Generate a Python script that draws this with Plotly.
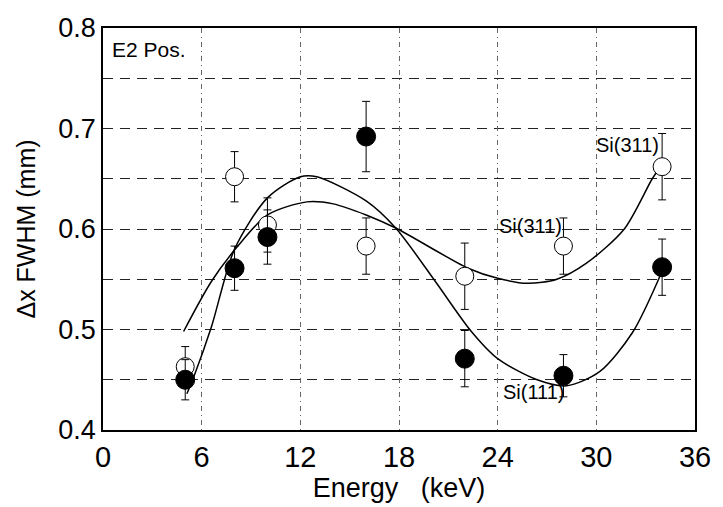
import plotly.graph_objects as go

# Measured data (Energy in keV, FWHM in mm)
energy = [5, 8, 10, 16, 22, 28, 34]
si311 = [0.463, 0.652, 0.604, 0.583, 0.553, 0.583, 0.662]
si311_err = [0.02, 0.025, 0.027, 0.028, 0.033, 0.028, 0.033]
si111 = [0.450, 0.561, 0.592, 0.692, 0.471, 0.454, 0.562]
si111_err = [0.02, 0.022, 0.027, 0.035, 0.028, 0.021, 0.028]

# Fit curves
fit311_x = [4.9, 6.6, 8.2, 10, 12.4, 14, 16, 17.8, 22.2, 24, 25.8, 27.6, 29.4, 31.7, 33.4, 33.9]
fit311_y = [0.498, 0.548, 0.583, 0.614, 0.627, 0.625, 0.614, 0.601, 0.561, 0.551, 0.546, 0.550, 0.566, 0.600, 0.650, 0.662]
fit111_x = [5.1, 5.5, 6.6, 8, 10, 12, 13, 16, 17.8, 20.2, 22.4, 24, 26.4, 28.2, 30.2, 32.2, 34]
fit111_y = [0.436, 0.452, 0.503, 0.580, 0.631, 0.652, 0.652, 0.628, 0.601, 0.548, 0.498, 0.471, 0.450, 0.444, 0.458, 0.497, 0.558]

x_ticks = [0, 6, 12, 18, 24, 30, 36]
y_ticks = [0.4, 0.5, 0.6, 0.7, 0.8]

fig = go.Figure()

for fx, fy in ((fit311_x, fit311_y), (fit111_x, fit111_y)):
    fig.add_trace(go.Scatter(
        x=fx, y=fy, mode="lines",
        line=dict(color="black", width=1.5, shape="spline", smoothing=0.8),
        showlegend=False, hoverinfo="skip"))

fig.add_trace(go.Scatter(
    x=energy, y=si311, mode="markers", name="Si(311)",
    marker=dict(symbol="circle", size=18, color="white",
                line=dict(color="black", width=1)),
    error_y=dict(type="data", array=si311_err, visible=True,
                 color="black", thickness=1, width=4),
    showlegend=False))
fig.add_trace(go.Scatter(
    x=energy, y=si111, mode="markers", name="Si(111)",
    marker=dict(symbol="circle", size=19, color="black",
                line=dict(color="black", width=1)),
    error_y=dict(type="data", array=si111_err, visible=True,
                 color="black", thickness=1, width=4),
    showlegend=False))

ann_font = dict(family="Arial, Liberation Sans, sans-serif", size=20, color="black")
fig.add_annotation(x=31.9, y=0.684, text="Si(311)", showarrow=False, font=ann_font)
fig.add_annotation(x=26.0, y=0.603, text="Si(311)", showarrow=False, font=ann_font)
fig.add_annotation(x=26.2, y=0.4375, text="Si(111)", showarrow=False, font=ann_font)
fig.add_annotation(x=0.4, y=0.779, text="E2 Pos.", showarrow=False, xanchor="left",
                   font=dict(family="Arial, Liberation Sans, sans-serif", size=21, color="black"))

fig.update_layout(
    width=723, height=507,
    margin=dict(l=103, r=19, t=28, b=63),
    paper_bgcolor="white", plot_bgcolor="white",
    font=dict(family="Arial, Liberation Sans, sans-serif", color="black"),
)
fig.update_xaxes(
    range=[0, 36], tickvals=x_ticks, ticktext=[str(v) for v in x_ticks],
    showline=True, mirror=True, linecolor="black", linewidth=1.5,
    showgrid=True, gridcolor="#666666", gridwidth=1, griddash="5px,4px,1px,4px",
    ticks="", zeroline=False,
    tickfont=dict(size=29),
    title=dict(text="Energy\u00a0\u00a0\u00a0(keV)", standoff=4, font=dict(size=27)),
)
fig.update_yaxes(
    range=[0.4, 0.8], tickvals=y_ticks, ticktext=["0.4", "0.5", "0.6", "0.7", "0.8"],
    showline=True, mirror=True, linecolor="black", linewidth=1.5,
    showgrid=False, ticks="", zeroline=False,
    tickfont=dict(size=27),
    title=dict(text="\u0394x FWHM (mm)", standoff=16, font=dict(size=25)),
)
# horizontal dashed grid at every 0.05 (minor grid)
fig.update_yaxes(minor=dict(dtick=0.05, tick0=0.4, showgrid=True, gridcolor="#222222",
                            gridwidth=1, griddash="10px,7px", ticks=""))

fig.write_html("out.html")
